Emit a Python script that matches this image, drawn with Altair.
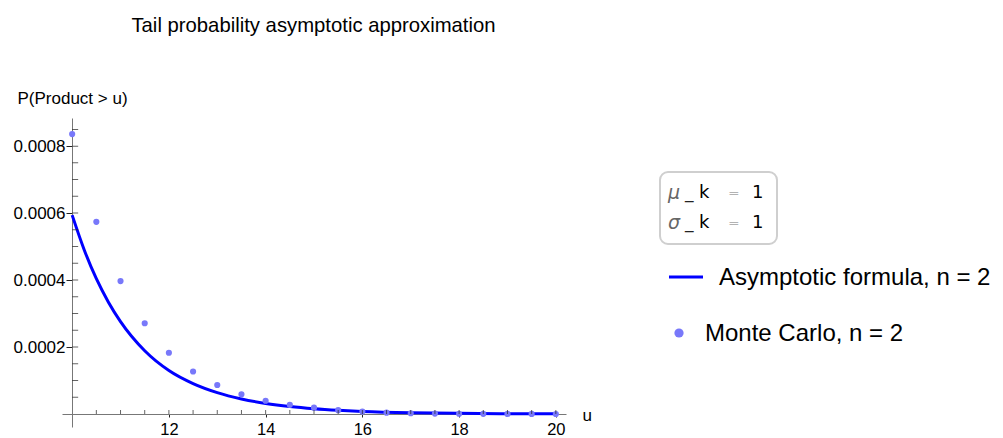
import altair as alt
import pandas as pd

# ---- data ----
u_mc = [10, 10.5, 11, 11.5, 12, 12.5, 13, 13.5, 14, 14.5, 15, 15.5, 16, 16.5,
        17, 17.5, 18, 18.5, 19, 19.5, 20]
p_mc = [0.000836, 0.000574, 0.000397, 0.000271, 0.000183, 0.000127, 0.0000866,
        0.0000588, 0.0000395, 0.0000275, 0.0000189, 0.0000115, 0.0000072,
        0.0000040, 0.0000022, 0.0000013, 0.0000008, 0.0000005, 0.0000003,
        0.0000002, 0.0000001]

u_asym = [10, 10.25, 10.5, 10.75, 11, 11.5, 12, 12.5, 13, 13.5, 14, 14.5, 15,
          15.5, 16, 17, 18, 19, 20]
p_asym = [0.000594, 0.000490, 0.000404, 0.000334, 0.000276, 0.000189, 0.000130,
          0.0000910, 0.0000640, 0.0000450, 0.0000316, 0.0000222, 0.0000156,
          0.0000110, 0.0000077, 0.0000038, 0.0000019, 0.0000009, 0.0000005]

x_major = [12, 14, 16, 18, 20]
y_major = [0.0002, 0.0004, 0.0006, 0.0008]
x_minor = [10.5, 11, 11.5, 12, 12.5, 13, 13.5, 14, 14.5, 15, 15.5, 16, 16.5,
           17, 17.5, 18, 18.5, 19, 19.5, 20]
y_minor = [0.00005, 0.0001, 0.00015, 0.0002, 0.00025, 0.0003, 0.00035, 0.0004,
           0.00045, 0.0005, 0.00055, 0.0006, 0.00065, 0.0007, 0.00075, 0.0008,
           0.00085]

title_text = "Tail probability asymptotic approximation"
y_title = "P(Product > u)"
x_title = "u"
legend_line = "Asymptotic formula, n = 2"
legend_point = "Monte Carlo, n = 2"

FONT = "Liberation Sans, Arial, sans-serif"
MFONT = "DejaVu Sans, sans-serif"
LINE_BLUE = "#0000FF"
PT_BLUE = "#7878FA"

xscale = alt.Scale(domain=[9.79, 20.21], nice=False, zero=False)
yscale = alt.Scale(domain=[-0.0000388, 0.000884], nice=False, zero=False)

xaxis = alt.Axis(values=x_major, format="d", offset=-13, grid=False,
                 domainColor="#777777", domainWidth=1, tickColor="#222222",
                 tickSize=3, labelPadding=4, labelFont=FONT, labelFontSize=16.5,
                 labelColor="#000000", title=x_title, titleFont=FONT,
                 titleFontSize=17, titleFontWeight="normal", titleColor="#000000",
                 titleX=520, titleY=6, titleAlign="left",
                 titleBaseline="alphabetic", titleAngle=0)
yaxis = alt.Axis(values=y_major, format=".4f", offset=-10, grid=False,
                 domainColor="#777777", domainWidth=1, tickColor="#222222",
                 tickSize=6, labelPadding=1, labelFont=FONT, labelFontSize=17,
                 labelColor="#000000", title=y_title, titleFont=FONT,
                 titleFontSize=17, titleFontWeight="normal", titleColor="#000000",
                 titleX=-55, titleY=-20, titleAlign="left",
                 titleBaseline="middle", titleAngle=0)

df_line = pd.DataFrame({"u": u_asym, "p": p_asym})
df_pts = pd.DataFrame({"u": u_mc, "p": p_mc})
df_xt = pd.DataFrame({"u": x_minor})
df_yt = pd.DataFrame({"p": y_minor})

line = alt.Chart(df_line).mark_line(color=LINE_BLUE, strokeWidth=3,
                                    interpolate="monotone").encode(
    x=alt.X("u:Q", scale=xscale, axis=xaxis),
    y=alt.Y("p:Q", scale=yscale, axis=yaxis),
)

pts = alt.Chart(df_pts).mark_circle(color=PT_BLUE, opacity=1, size=38).encode(
    x=alt.X("u:Q", scale=xscale),
    y=alt.Y("p:Q", scale=yscale),
)

xticks = alt.Chart(df_xt).mark_tick(orient="vertical", size=4, thickness=1,
                                    color="#222222", yOffset=-2).encode(
    x=alt.X("u:Q", scale=xscale),
    y=alt.datum(0, scale=yscale),
)

yticks = alt.Chart(df_yt).mark_tick(orient="horizontal", size=6, thickness=1,
                                    color="#222222", xOffset=3).encode(
    x=alt.datum(10, scale=xscale),
    y=alt.Y("p:Q", scale=yscale),
)

one = pd.DataFrame({"t": [""]})


def txt(s, x, y, size, color="#000000", style="normal", align="left",
        baseline="middle", weight="normal", font=FONT):
    return alt.Chart(pd.DataFrame({"t": [s]})).mark_text(
        font=font, fontSize=size, color=color, fontStyle=style, align=align,
        baseline=baseline, fontWeight=weight).encode(
        text="t:N", x=alt.value(x), y=alt.value(y))


title = txt(title_text, 251.5, -86, 20.3, align="center", baseline="alphabetic")

box = alt.Chart(one).mark_rect(cornerRadius=8, fill="white", stroke="#CFCFCF",
                               strokeWidth=2).encode(
    x=alt.value(598), x2=alt.value(715), y=alt.value(54), y2=alt.value(126))

rows = [("\u03bc", 74.5), ("\u03c3", 105)]
legend_rows = []
for sym, yy in rows:
    legend_rows += [
        txt(sym, 606, yy, 19, color="#666666", style="italic", weight=300,
            font=MFONT),
        txt("_", 623, yy, 17, color="#222222", font=MFONT),
        txt("k", 637, yy, 18, color="#000000", font=MFONT),
        txt("=", 666, yy + 1, 14, color="#777777", font=MFONT, weight=300),
        txt("1", 690, yy, 18, color="#000000", font=MFONT),
    ]

leg_rule = alt.Chart(one).mark_rule(color=LINE_BLUE, strokeWidth=3).encode(
    x=alt.value(607), x2=alt.value(641), y=alt.value(159))
leg_pt = alt.Chart(one).mark_circle(color=PT_BLUE, opacity=1, size=85).encode(
    x=alt.value(617), y=alt.value(215))
leg_t1 = txt(legend_line, 657, 160, 24)
leg_t2 = txt(legend_point, 643, 216, 24)

chart = alt.layer(
    line, pts, xticks, yticks, title, box, *legend_rows,
    leg_rule, leg_pt, leg_t1, leg_t2
).properties(
    width=504, height=309, autosize="none",
    padding={"left": 54, "top": 110, "right": 429, "bottom": 12},
    background="white",
).configure_view(stroke=None)

chart.save("out.html", embed_options={"renderer": "svg", "actions": False})
